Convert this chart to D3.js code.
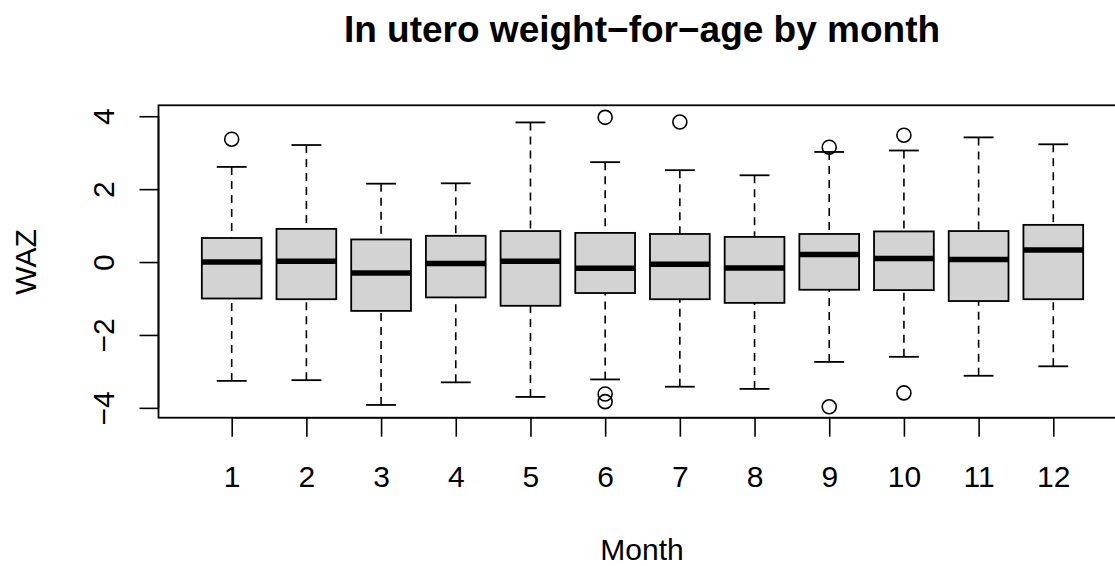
<!DOCTYPE html>
<html>
<head>
<meta charset="utf-8">
<script src="https://cdn.jsdelivr.net/npm/d3@7/dist/d3.min.js"></script>
<style>
  html, body { margin: 0; padding: 0; background: #fff; }
  svg { display: block; }
  text { font-family: "Liberation Sans", Arial, Helvetica, sans-serif; fill: #000; }
</style>
</head>
<body>
<svg id="chart" width="1115" height="566"></svg>
<script>
// Weight-for-age z-score summary per month
const months       = [1, 2, 3, 4, 5, 6, 7, 8, 9, 10, 11, 12];
const lowerWhisker = [-3.26, -3.24, -3.92, -3.30, -3.70, -3.22, -3.42, -3.48, -2.74, -2.60, -3.12, -2.86];
const q1           = [-1.00, -1.02, -1.34, -0.97, -1.20, -0.85, -1.02, -1.12, -0.76, -0.77, -1.07, -1.02];
const medians      = [ 0.00,  0.02, -0.30, -0.04,  0.02, -0.17, -0.06, -0.16,  0.21,  0.10,  0.07,  0.33];
const q3           = [ 0.66,  0.91,  0.62,  0.72,  0.85,  0.80,  0.77,  0.69,  0.77,  0.84,  0.85,  1.02];
const upperWhisker = [ 2.61,  3.21,  2.15,  2.16,  3.83,  2.74,  2.52,  2.38,  3.02,  3.06,  3.42,  3.23];
const outlierMonth = [1, 6, 6, 6, 7, 9, 9, 10, 10];
const outlierValue = [3.37, 3.97, -3.62, -3.83, 3.84, 3.15, -3.97, 3.48, -3.59];
const yTicks       = [-4, -2, 0, 2, 4];

const titleText = "In utero weight\u2212for\u2212age by month";
const xLabel = "Month";
const yLabel = "WAZ";

const svg = d3.select("#chart");

const plot = { left: 158.5, right: 1126.5, top: 105.3, bottom: 417.7 };

const x = d3.scaleLinear().domain([0.02, 12.98]).range([plot.left, plot.right]);
const y = d3.scaleLinear().domain([-4.27, 4.30]).range([plot.bottom, plot.top]);

const boxHalf = (x(1.4) - x(1));   // box width 0.8
const capHalf = boxHalf / 2;

const stats = months.map((m, i) => ({
  m, lo: lowerWhisker[i], q1: q1[i], med: medians[i], q3: q3[i], hi: upperWhisker[i]
}));

const g = svg.append("g");

// dashed whiskers, from cap to box edge
g.selectAll("line.wlo").data(stats).join("line")
  .attr("x1", d => x(d.m)).attr("x2", d => x(d.m))
  .attr("y1", d => y(d.lo)).attr("y2", d => y(d.q1))
  .attr("stroke", "#000").attr("stroke-width", 1.6).attr("stroke-dasharray", "8,6");
g.selectAll("line.whi").data(stats).join("line")
  .attr("x1", d => x(d.m)).attr("x2", d => x(d.m))
  .attr("y1", d => y(d.hi)).attr("y2", d => y(d.q3))
  .attr("stroke", "#000").attr("stroke-width", 1.6).attr("stroke-dasharray", "8,6");

// whisker caps
["lo", "hi"].forEach(k => {
  g.selectAll("line.cap-" + k).data(stats).join("line")
    .attr("x1", d => x(d.m) - capHalf).attr("x2", d => x(d.m) + capHalf)
    .attr("y1", d => y(d[k])).attr("y2", d => y(d[k]))
    .attr("stroke", "#000").attr("stroke-width", 1.8);
});

// boxes
g.selectAll("rect.box").data(stats).join("rect")
  .attr("x", d => x(d.m) - boxHalf)
  .attr("width", boxHalf * 2)
  .attr("y", d => y(d.q3))
  .attr("height", d => y(d.q1) - y(d.q3))
  .attr("fill", "#d3d3d3").attr("stroke", "#000").attr("stroke-width", 1.8);

// medians
g.selectAll("line.med").data(stats).join("line")
  .attr("x1", d => x(d.m) - boxHalf).attr("x2", d => x(d.m) + boxHalf)
  .attr("y1", d => y(d.med)).attr("y2", d => y(d.med))
  .attr("stroke", "#000").attr("stroke-width", 5.5);

// outliers
g.selectAll("circle.out").data(outlierMonth.map((m, i) => ({ m, v: outlierValue[i] }))).join("circle")
  .attr("cx", d => x(d.m)).attr("cy", d => y(d.v)).attr("r", 7)
  .attr("fill", "none").attr("stroke", "#000").attr("stroke-width", 1.6);

// plot frame
svg.append("rect")
  .attr("x", plot.left).attr("y", plot.top)
  .attr("width", plot.right - plot.left).attr("height", plot.bottom - plot.top)
  .attr("fill", "none").attr("stroke", "#000").attr("stroke-width", 1.8);

// x axis
const xAxis = d3.axisBottom(x).tickValues(months).tickSize(19).tickPadding(29).tickFormat(d3.format("d"));
const xg = svg.append("g").attr("transform", `translate(0,${plot.bottom})`).call(xAxis);
xg.select(".domain").attr("stroke", "#000").attr("stroke-width", 1.6)
  .attr("d", `M${x(1)},0H${x(12)}`);
xg.selectAll(".tick line").attr("stroke", "#000").attr("stroke-width", 1.6);
xg.selectAll(".tick text").attr("font-size", 30).attr("font-family", null).attr("fill", "#000");

// y axis with labels rotated parallel to the axis
const yAxis = d3.axisLeft(y).tickValues(yTicks).tickSize(19).tickFormat(d => d < 0 ? "\u2212" + Math.abs(d) : String(d));
const yg = svg.append("g").attr("transform", `translate(${plot.left},0)`).call(yAxis);
yg.select(".domain").attr("stroke", "#000").attr("stroke-width", 1.6)
  .attr("d", `M0,${y(-4)}V${y(4)}`);
yg.selectAll(".tick line").attr("stroke", "#000").attr("stroke-width", 1.6);
yg.selectAll(".tick text")
  .attr("font-size", 30).attr("font-family", null).attr("fill", "#000")
  .attr("x", null).attr("dy", null)
  .attr("text-anchor", "middle")
  .attr("transform", "translate(-45,0) rotate(-90)");

// titles
svg.append("text").attr("x", 642).attr("y", 41.7)
  .attr("text-anchor", "middle").attr("font-size", 37).attr("font-weight", "bold")
  .text(titleText);
svg.append("text").attr("x", 642).attr("y", 560)
  .attr("text-anchor", "middle").attr("font-size", 30).text(xLabel);
svg.append("text").attr("transform", "translate(36,262) rotate(-90)")
  .attr("text-anchor", "middle").attr("font-size", 30).text(yLabel);
</script>
</body>
</html>
